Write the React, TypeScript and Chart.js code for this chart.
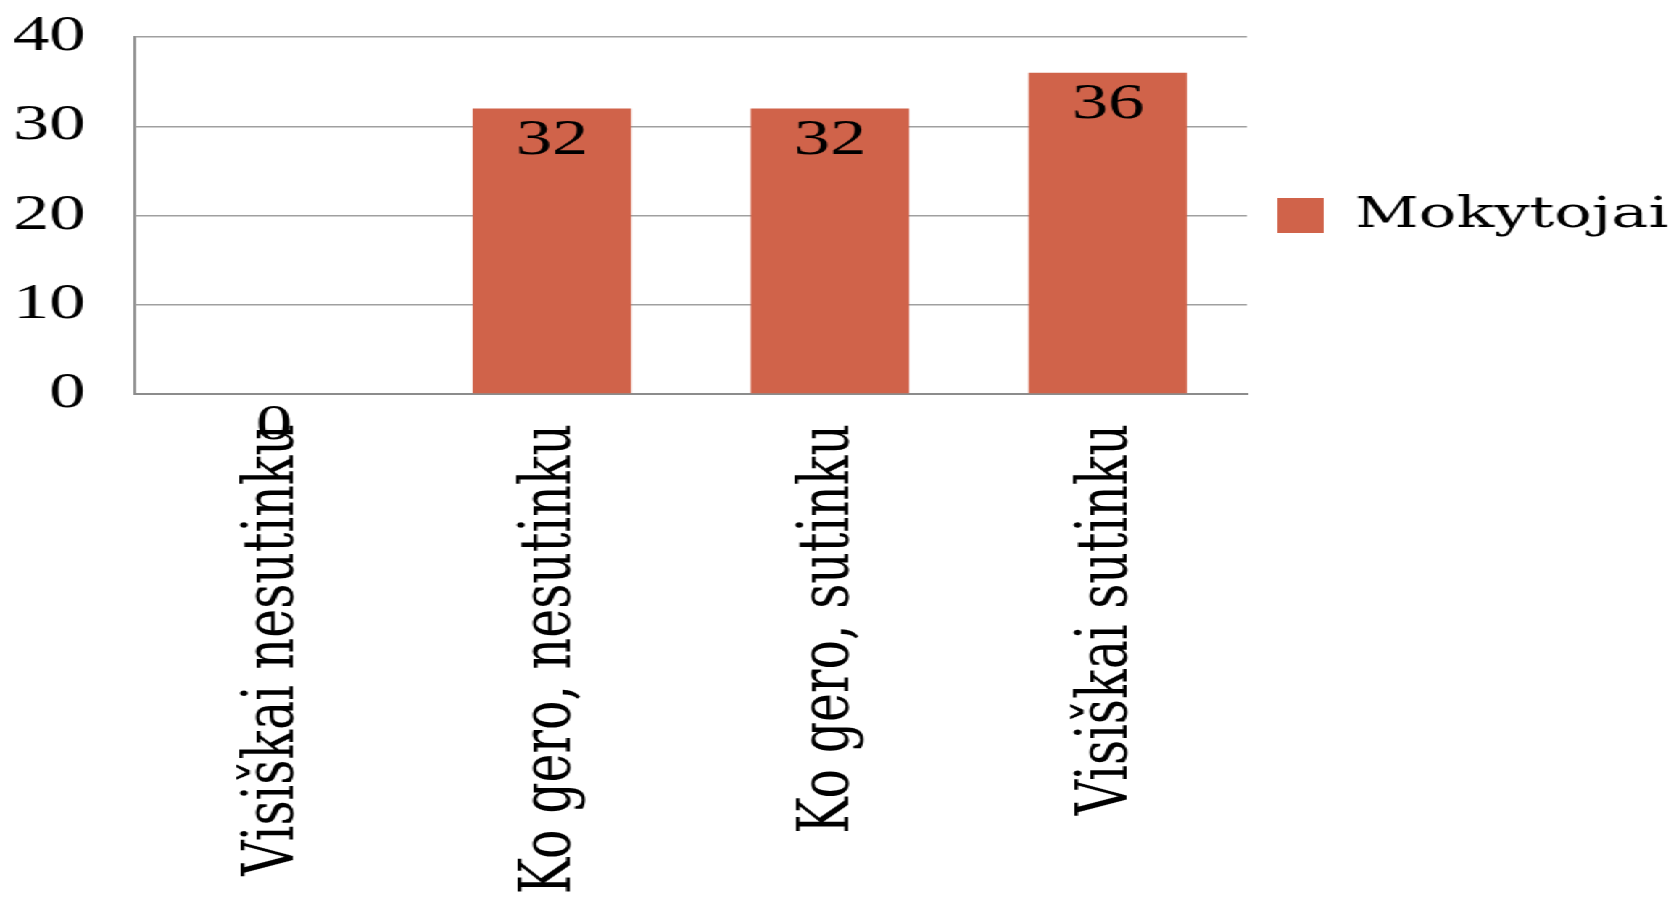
import React, { useEffect, useRef } from "react";
import { Chart, registerables } from "chart.js";

Chart.register(...registerables);

// ---- data ----
const categories = ["Visiškai nesutinku", "Ko gero, nesutinku", "Ko gero, sutinku", "Visiškai sutinku"];
const seriesName = "Mokytojai";
const values = [0, 32, 32, 36];
const yTicks = [0, 10, 20, 30, 40];

// ---- layout (the source picture is stretched horizontally) ----
const FULL_W = 1679;
const FULL_H = 900;
const STRETCH = 1.45;
const CANVAS_W = Math.round(FULL_W / STRETCH);

const BAR_COLOR = "#D0634A";

const valueLabels = {
  id: "valueLabels",
  afterDatasetsDraw(chart: any) {
    const ctx = chart.ctx;
    const meta = chart.getDatasetMeta(0);
    const data = chart.data.datasets[0].data;
    ctx.save();
    ctx.font = '50px "Liberation Serif"';
    ctx.fillStyle = "#000";
    ctx.textAlign = "center";
    ctx.textBaseline = "middle";
    meta.data.forEach((el: any, i: number) => {
      ctx.fillText(String(data[i]), el.x, el.y + 32);
    });
    ctx.restore();
  },
};

export default function App() {
  const ref = useRef<HTMLCanvasElement | null>(null);

  useEffect(() => {
    if (!ref.current) return;
    const chart = new Chart(ref.current, {
      type: "bar",
      data: {
        labels: categories,
        datasets: [
          {
            label: seriesName,
            data: values,
            backgroundColor: BAR_COLOR,
            borderWidth: 0,
            barPercentage: 0.57,
            categoryPercentage: 1,
          },
        ],
      },
      options: {
        animation: false,
        responsive: false,
        devicePixelRatio: 1,
        layout: { padding: { top: 37, left: 0, right: 0, bottom: 0 } },
        plugins: {
          tooltip: { enabled: false },
          title: { display: false },
          legend: {
            display: true,
            position: "right",
            align: "center",
            fullSize: false,
            maxWidth: 298,
            labels: {
              boxWidth: 32,
              boxHeight: 35,
              padding: 21,
              color: "#000",
              font: { family: '"DejaVu Serif"', size: 43 },
            },
          },
        },
        scales: {
          x: {
            grid: { display: false, drawTicks: false },
            border: { display: true, color: "#8c8c8c", width: 2 },
            ticks: {
              autoSkip: false,
              minRotation: 90,
              maxRotation: 90,
              padding: 30,
              color: "#000",
              font: { family: '"DejaVu Serif"', size: 49 },
            },
            afterFit: (s: any) => {
              s.height = 506;
              s.paddingLeft = 0;
              s.paddingRight = 0;
              s.paddingTop = 0;
              s.paddingBottom = 0;
            },
          },
          y: {
            min: 0,
            max: 40,
            afterBuildTicks: (s: any) => {
              s.ticks = yTicks.map((v) => ({ value: v }));
            },
            grid: { color: "#a0a0a0", lineWidth: 1.5, drawTicks: false },
            border: { display: true, color: "#8c8c8c", width: 1.8 },
            ticks: {
              padding: 34,
              color: "#000",
              font: { family: '"Liberation Serif"', size: 50 },
            },
            afterFit: (s: any) => {
              s.width = 93;
              s.paddingTop = 0;
              s.paddingBottom = 0;
              s.paddingLeft = 0;
              s.paddingRight = 0;
            },
          },
        },
      },
      plugins: [valueLabels],
    } as any);
    return () => chart.destroy();
  }, []);

  return (
    <div
      style={{
        position: "fixed",
        left: 0,
        top: 0,
        width: CANVAS_W,
        height: FULL_H,
        transform: `scaleX(${FULL_W / CANVAS_W})`,
        transformOrigin: "0 0",
        background: "#fff",
      }}
    >
      <canvas ref={ref} width={CANVAS_W} height={FULL_H} style={{ display: "block" }} />
    </div>
  );
}
